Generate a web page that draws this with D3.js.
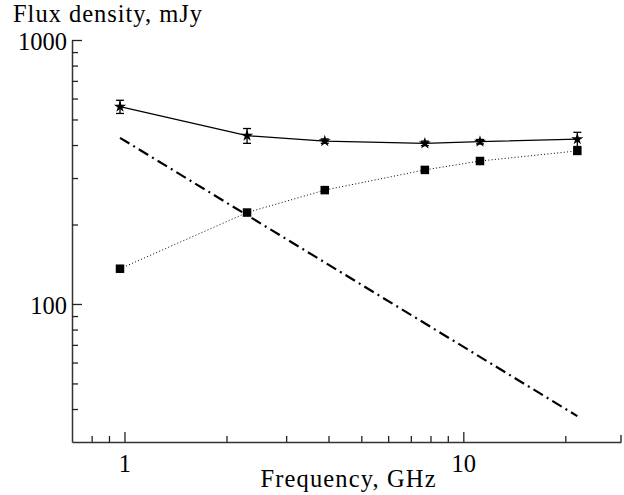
<!DOCTYPE html>
<html><head><meta charset="utf-8">
<script src="https://cdn.jsdelivr.net/npm/d3@7"></script>
<style>
body{margin:0;background:#fff;}
text{font-family:"Liberation Serif","Times New Roman",serif;}
</style></head>
<body><svg id="c" width="624" height="495"></svg>
<script>
const freqs = [0.97, 2.3, 3.9, 7.7, 11.2, 21.7];
const totalFlux = [559, 434, 414, 406, 412, 421];
const totalErr = [32, 28, 8, 8, 8, 26];
const compactFlux = [136, 222, 270, 322, 348, 380];
const extFreqs = [0.97, 21.7];
const extFlux = [426, 37.6];
const xMajor = [1, 10];
const xMinor = [0.8, 0.9, 2, 3, 4, 5, 6, 7, 8, 9, 20];
const yMajor = [100, 1000];
const yMinor = [40, 50, 60, 70, 80, 90, 200, 300, 400, 500, 600, 700, 800, 900];

const svg = d3.select("#c");
const x = d3.scaleLog().domain([0.7, 29.2]).range([72, 621]);
const y = d3.scaleLog().domain([30, 1000]).range([442, 40]);
const fmt = d => String(d);
const FS = 24.5;

// axes
const gx = svg.append("g").attr("transform", "translate(0,442)");
gx.call(d3.axisBottom(x).tickValues(xMajor).tickFormat(fmt).tickSize(-10).tickSizeOuter(0).tickPadding(13));
const gx2 = svg.append("g").attr("transform", "translate(0,442)");
gx2.call(d3.axisBottom(x).tickValues(xMinor).tickFormat("").tickSize(-6).tickSizeOuter(0));
gx2.select(".domain").remove();
svg.append("line").attr("x1", x.range()[1]).attr("x2", x.range()[1]).attr("y1", 442).attr("y2", 435)
  .attr("stroke", "#333").attr("stroke-width", 1.5);

const gy = svg.append("g").attr("transform", "translate(72,0)");
gy.call(d3.axisLeft(y).tickValues(yMajor).tickFormat(fmt).tickSize(-10).tickSizeOuter(0).tickPadding(5));
const gy2 = svg.append("g").attr("transform", "translate(72,0)");
gy2.call(d3.axisLeft(y).tickValues(yMinor).tickFormat("").tickSize(-6).tickSizeOuter(0));
gy2.select(".domain").remove();

svg.selectAll(".domain").attr("stroke", "#333").attr("stroke-width", 1.5);
svg.selectAll(".tick line").attr("stroke", "#222").attr("stroke-width", 1.3);
svg.selectAll(".tick text").attr("font-size", FS).attr("fill", "#000")
  .attr("font-family", "Liberation Serif, serif");
gx.selectAll(".tick text").attr("dy", "0.71em");
gy.selectAll(".tick text").attr("dy", "0.38em");

svg.append("text").attr("x", 13).attr("y", 22).attr("font-size", FS)
  .attr("textLength", 189).attr("lengthAdjust", "spacing").text("Flux density, mJy");
svg.append("text").attr("x", 260.5).attr("y", 487).attr("font-size", FS)
  .attr("textLength", 175).attr("lengthAdjust", "spacing").text("Frequency, GHz");

// dash-dot line
svg.append("path")
  .datum(extFreqs.map((f, i) => [f, extFlux[i]]))
  .attr("d", d3.line().x(d => x(d[0])).y(d => y(d[1])))
  .attr("fill", "none").attr("stroke", "#000").attr("stroke-width", 2.2)
  .attr("stroke-dasharray", "11,4.5,2,4.5");

// dotted compact line
const compactData = freqs.map((f, i) => [f, compactFlux[i]]);
svg.append("path").datum(compactData)
  .attr("d", d3.line().x(d => x(d[0])).y(d => y(d[1])))
  .attr("fill", "none").attr("stroke", "#000").attr("stroke-width", 1)
  .attr("stroke-dasharray", "1,2.3");

// solid total line
const totalData = freqs.map((f, i) => [f, totalFlux[i], totalErr[i]]);
svg.append("path").datum(totalData)
  .attr("d", d3.line().x(d => x(d[0])).y(d => y(d[1])))
  .attr("fill", "none").attr("stroke", "#000").attr("stroke-width", 1.2);

// error bars
const eb = svg.append("g").attr("stroke", "#000").attr("stroke-width", 1.3);
totalData.forEach(d => {
  const cx = x(d[0]);
  const yt = y(d[1] + d[2]), yb = y(d[1] - d[2]);
  eb.append("line").attr("x1", cx).attr("x2", cx).attr("y1", yt).attr("y2", yb);
  eb.append("line").attr("x1", cx - 4).attr("x2", cx + 4).attr("y1", yt).attr("y2", yt);
  eb.append("line").attr("x1", cx - 4).attr("x2", cx + 4).attr("y1", yb).attr("y2", yb);
});

// squares
svg.selectAll(".sq").data(compactData).enter().append("rect")
  .attr("x", d => x(d[0]) - 4.25).attr("y", d => y(d[1]) - 4.25)
  .attr("width", 8.5).attr("height", 8.5).attr("fill", "#000");

// stars
const star = d3.symbol().type(d3.symbolStar).size(45);
svg.selectAll(".st").data(totalData).enter().append("path")
  .attr("d", star)
  .attr("transform", d => `translate(${x(d[0])},${y(d[1])})`)
  .attr("fill", "#000");
</script></body></html>
